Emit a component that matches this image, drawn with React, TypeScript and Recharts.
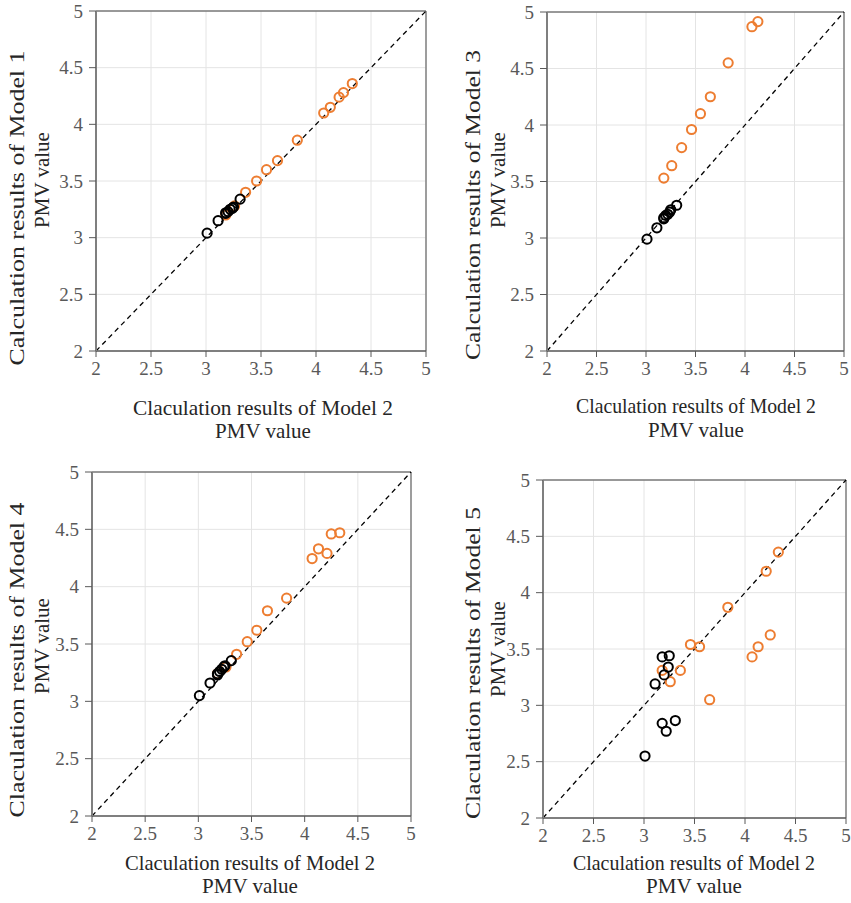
import { ScatterChart, Scatter, XAxis, YAxis, CartesianGrid, ReferenceLine, Label } from 'recharts';

const ticks = [2, 2.5, 3, 3.5, 4, 4.5, 5];

// Model 2 results (x axis of every panel)
const model2Black = [3.01, 3.11, 3.18, 3.25, 3.24, 3.2, 3.18, 3.22, 3.31];
const model2Orange = [3.18, 3.26, 3.36, 3.46, 3.55, 3.65, 3.83, 4.07, 4.13, 4.21, 4.25, 4.33];

// other models (y axis)
const model1Black = [3.04, 3.15, 3.215, 3.27, 3.26, 3.23, 3.22, 3.25, 3.34];
const model1Orange = [3.2, 3.28, 3.4, 3.5, 3.6, 3.68, 3.86, 4.1, 4.15, 4.24, 4.28, 4.36];

const model3Black = [2.99, 3.09, 3.17, 3.25, 3.23, 3.2, 3.18, 3.21, 3.29];
const model3Orange = [3.53, 3.64, 3.8, 3.96, 4.1, 4.25, 4.55, 4.87, 4.915];

const model4Black = [3.05, 3.16, 3.24, 3.31, 3.3, 3.26, 3.23, 3.28, 3.355];
const model4Orange = [3.24, 3.3, 3.41, 3.52, 3.62, 3.79, 3.9, 4.245, 4.33, 4.29, 4.46, 4.47];

const model5Black = [2.55, 3.19, 3.43, 3.44, 3.34, 3.27, 2.84, 2.77, 2.865];
const model5Orange = [3.31, 3.21, 3.31, 3.54, 3.52, 3.05, 3.87, 3.43, 3.52, 4.19, 3.625, 4.36];

const zip = (xs: number[], ys: number[]) => ys.map((y, i) => ({ x: xs[i], y }));

const ORANGE = '#ED7D31';
const FONT = 'Liberation Serif';
const L = 96;
const T = 20;
const R = 12;
const B = 100;

const panels = [
  { px: 96, py: 11, w: 330, h: 340, yTitle: 'Calculation results of Model 1', yBase: [24, 49], yMid: [208, 180], yLen: 315, xBase: [415, 438], xCx: 263, xLen: 260, black: model1Black, orange: model1Orange },
  { px: 547, py: 12, w: 297, h: 339, yTitle: 'Calculation results of Model 3', yBase: [480, 505], yMid: [205, 180], yLen: 310, xBase: [413, 437], xCx: 696, xLen: 240, black: model3Black, orange: model3Orange },
  { px: 92, py: 472, w: 319, h: 344, yTitle: 'Claculation results of Model 4', yBase: [24, 49], yMid: [660, 646], yLen: 315, xBase: [870, 893], xCx: 250, xLen: 250, black: model4Black, orange: model4Orange },
  { px: 543, py: 480, w: 303, h: 338, yTitle: 'Claculation results of Model 5', yBase: [480, 505], yMid: [663, 649], yLen: 312, xBase: [870, 893], xCx: 694, xLen: 242, black: model5Black, orange: model5Orange },
];

const ring = (color: string) => (p: any) => {
  if (p.cx == null || p.cy == null) return <g />;
  return <circle cx={p.cx} cy={p.cy} r={4.6} fill="none" stroke={color} strokeWidth={2} />;
};

const XTick = (p: any) => (
  <text x={p.x} y={p.y} dy="0.71em" textAnchor="middle" style={{ fontFamily: FONT, fontSize: 19 }} fill="#595959">
    {p.payload.value}
  </text>
);

const YTick = (p: any) => (
  <text x={p.x} y={p.y} dy="0.355em" textAnchor="end" style={{ fontFamily: FONT, fontSize: 19 }} fill="#595959">
    {p.payload.value}
  </text>
);

const titleStyle = { fontFamily: FONT, fontSize: 21 };

function Panel({ cfg }: { cfg: any }) {
  const left = cfg.px - L;
  const top = cfg.py - T;
  const width = cfg.w + L + R;
  const height = cfg.h + T + B;

  const yLabel = () => {
    const a = cfg.yBase[0] - left;
    const b = cfg.yBase[1] - left;
    const ya = cfg.yMid[0] - top;
    const yb = cfg.yMid[1] - top;
    return (
      <g fill="#262626">
        <text x={a} y={ya} style={titleStyle} textAnchor="middle" textLength={cfg.yLen} lengthAdjust="spacingAndGlyphs" transform={`rotate(-90 ${a} ${ya})`}>
          {cfg.yTitle}
        </text>
        <text x={b} y={yb} style={titleStyle} textAnchor="middle" transform={`rotate(-90 ${b} ${yb})`}>
          PMV value
        </text>
      </g>
    );
  };

  const xLabel = () => {
    const cx = cfg.xCx - left;
    return (
      <g fill="#262626">
        <text x={cx} y={cfg.xBase[0] - top} style={titleStyle} textAnchor="middle" textLength={cfg.xLen} lengthAdjust="spacingAndGlyphs">
          Claculation results of Model 2
        </text>
        <text x={cx} y={cfg.xBase[1] - top} style={titleStyle} textAnchor="middle">
          PMV value
        </text>
      </g>
    );
  };

  return (
    <div style={{ position: 'absolute', left, top }}>
      <ScatterChart width={width} height={height} margin={{ top: T, right: R, left: 0, bottom: 0 }}>
        <CartesianGrid stroke="#e4e4e4" />
        <XAxis
          type="number"
          dataKey="x"
          domain={[2, 5]}
          ticks={ticks}
          interval={0}
          height={B}
          tickSize={6}
          tickMargin={5}
          tick={<XTick />}
          axisLine={{ stroke: '#595959', strokeWidth: 1.5 }}
          tickLine={{ stroke: '#595959' }}
        >
          <Label content={xLabel} />
        </XAxis>
        <YAxis
          type="number"
          dataKey="y"
          domain={[2, 5]}
          ticks={ticks}
          interval={0}
          width={L}
          tickSize={7}
          tickMargin={6}
          tick={<YTick />}
          axisLine={{ stroke: '#7f7f7f', strokeWidth: 2 }}
          tickLine={{ stroke: '#595959' }}
        >
          <Label content={yLabel} />
        </YAxis>
        <ReferenceLine y={5} stroke="#404040" strokeWidth={1} />
        <ReferenceLine x={5} stroke="#808080" strokeWidth={1.5} />
        <ReferenceLine segment={[{ x: 2, y: 2 }, { x: 5, y: 5 }]} stroke="#000" strokeDasharray="5 4" strokeWidth={1.3} />
        <Scatter data={zip(model2Orange, cfg.orange)} shape={ring(ORANGE)} isAnimationActive={false} />
        <Scatter data={zip(model2Black, cfg.black)} shape={ring('#000')} isAnimationActive={false} />
      </ScatterChart>
    </div>
  );
}

export default function App() {
  return (
    <div style={{ position: 'absolute', left: 0, top: 0, width: 851, height: 903, background: '#fff', overflow: 'hidden', fontFamily: FONT }}>
      {panels.map((p, i) => (
        <Panel key={i} cfg={p} />
      ))}
    </div>
  );
}
